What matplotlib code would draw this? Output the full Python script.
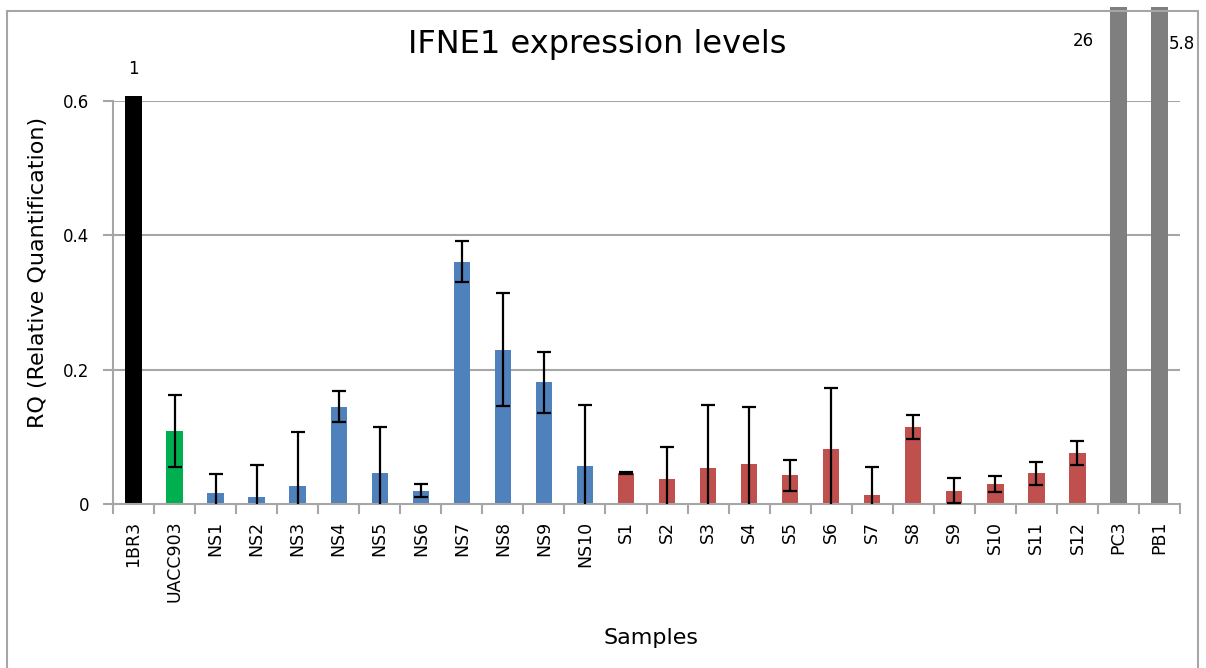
#!/usr/bin/env python3
import matplotlib
matplotlib.use("Agg")
import matplotlib.pyplot as plt
import numpy as np
from matplotlib.patches import Rectangle
from matplotlib.transforms import Bbox, TransformedBbox

samples = ["1BR3", "UACC903", "NS1", "NS2", "NS3", "NS4", "NS5", "NS6", "NS7", "NS8",
           "NS9", "NS10", "S1", "S2", "S3", "S4", "S5", "S6", "S7", "S8", "S9", "S10",
           "S11", "S12", "PC3", "PB1"]
groups = ["ref", "ctrl"] + ["ns"] * 10 + ["s"] * 12 + ["pos", "pos"]
rq = [1.0, 0.109, 0.017, 0.011, 0.027, 0.145, 0.046, 0.020, 0.361, 0.230,
      0.181, 0.056, 0.046, 0.037, 0.053, 0.060, 0.043, 0.082, 0.013, 0.115,
      0.020, 0.030, 0.046, 0.076, 26.0, 5.8]
rq_err = [0.0, 0.054, 0.028, 0.047, 0.080, 0.023, 0.068, 0.0095, 0.031, 0.084,
          0.045, 0.092, 0.002, 0.048, 0.095, 0.084, 0.023, 0.091, 0.042, 0.018,
          0.018, 0.0115, 0.017, 0.018, 0.0, 0.0]
off_scale = {"1BR3": "1", "PC3": "26", "PB1": "5.8"}

COLORS = {"ref": "#000000", "ctrl": "#00B050", "ns": "#4F81BD", "s": "#C0504D", "pos": "#7F7F7F"}
GRID = "#A6A6A6"
REF_CAP = 0.607  # 1BR3 bar is cut just above the axis top

plt.rcParams["font.family"] = ["DejaVu Sans"]

fig = plt.figure(figsize=(12.06, 6.68), dpi=100)
W, H = 1206, 668
ax = fig.add_axes([113 / W, 1 - 504 / H, 1067 / W, 403 / H])

x = np.arange(len(samples))
heights = np.array(rq, dtype=float)
heights[0] = min(heights[0], REF_CAP)
colors = [COLORS[g] for g in groups]

# outer chart border, also used as clip region for the off-scale bars
border = Rectangle((7 / W, -0.05), 1191 / W, 1.05 - 11 / H, transform=fig.transFigure,
                   fill=False, edgecolor=GRID, linewidth=1.5)
fig.patches.append(border)
clip_box = TransformedBbox(Bbox([[0, 0], [1, 1 - 7 / H]]), fig.transFigure)

bars = ax.bar(x, heights, width=0.4, color=colors, zorder=2)
for b in bars:
    b.set_clip_box(clip_box)

has_err = np.array(rq_err) > 0
ax.errorbar(x[has_err], np.array(rq)[has_err], yerr=np.array(rq_err)[has_err], fmt="none",
            ecolor="black", elinewidth=1.6, capsize=5, capthick=1.6, zorder=3)

# values of the bars that run off the scale
ax.text(0, 0.648, off_scale["1BR3"], ha="center", va="center", fontsize=12, clip_on=False)
ax.text(23.14, 0.69, off_scale["PC3"], ha="center", va="center", fontsize=12, clip_on=False)
ax.text(25.22, 0.685, off_scale["PB1"], ha="left", va="center", fontsize=12, clip_on=False)

ax.set_xlim(-0.5, len(samples) - 0.5)
ax.set_ylim(0, 0.6)
ax.set_yticks([0, 0.2, 0.4, 0.6])
ax.set_yticklabels(["0", "0.2", "0.4", "0.6"], fontsize=12)
ax.set_xticks(x)
ax.set_xticklabels(samples, rotation=90, fontsize=12.5)
ax.set_xticks(np.arange(-0.5, len(samples)), minor=True)
ax.tick_params(axis="x", which="major", length=0, pad=12)
ax.tick_params(axis="x", which="minor", length=7, color=GRID, width=1.5)
ax.tick_params(axis="y", length=7, color=GRID, width=1.5, pad=10)

for v in [0.2, 0.4, 0.6]:
    ax.axhline(v, color=GRID, linewidth=1.5, zorder=1)

for side in ["top", "right"]:
    ax.spines[side].set_visible(False)
for side in ["left", "bottom"]:
    ax.spines[side].set_color(GRID)
    ax.spines[side].set_linewidth(1.5)

fig.text(38 / W, 1 - 272 / H, "RQ (Relative Quantification)", rotation=90,
         ha="center", va="center", fontsize=16)
fig.text(651 / W, 1 - 638 / H, "Samples", ha="center", va="center", fontsize=16)
fig.text(597 / W, 1 - 44 / H, "IFNE1 expression levels", ha="center", va="center", fontsize=23)

fig.savefig("out.png", dpi=100)
